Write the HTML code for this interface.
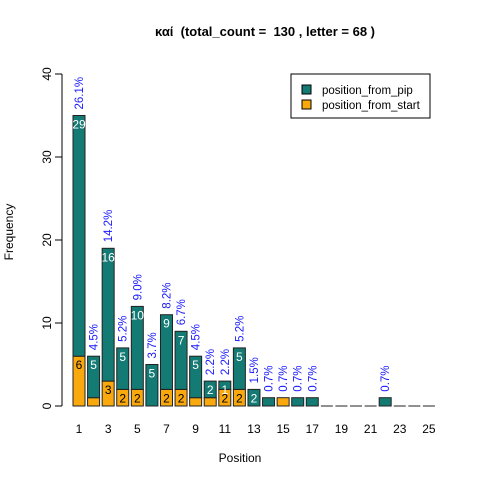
<!DOCTYPE html>
<html><head><meta charset="utf-8"><style>body{margin:0;background:#fff}svg{font-family:"Liberation Sans",Arial,sans-serif}</style></head>
<body>
<svg id="c" width="480" height="480">
<text x="265" y="36" text-anchor="middle" font-size="13" font-weight="bold" style="white-space:pre">καί  (total_count =  130 , letter = 68 )</text>
<text x="240" y="462" text-anchor="middle" font-size="12">Position</text>
<text transform="translate(13,232) rotate(-90)" text-anchor="middle" font-size="12">Frequency</text>
<g>
<rect x="291" y="74" width="139" height="44" fill="#fff" stroke="#000"/>
<rect x="302" y="85" width="9" height="9" fill="#137a74" stroke="#000"/>
<text x="322" y="94" font-size="11.5">position_from_pip</text>
<rect x="302" y="100" width="9" height="9" fill="#f9a90d" stroke="#000"/>
<text x="322" y="109" font-size="11.5">position_from_start</text>
</g>
<g id="plot"></g>
</svg>
<script>
const positions=[1,2,3,4,5,6,7,8,9,10,11,12,13,14,15,16,17,18,19,20,21,22,23,24,25];
const fromStart=[6,1,3,2,2,0,2,2,1,1,2,2,0,0,1,0,0,0,0,0,0,0,0,0,0];
const fromPip=[29,5,16,5,10,5,9,7,5,2,1,5,2,1,0,1,1,0,0,0,0,1,0,0,0];
const yTicks=[0,10,20,30,40];
const pctDenom=134;
const NS="http://www.w3.org/2000/svg";
const g=document.getElementById('plot');
const y=v=>406-v*8.3;
const xc=p=>79+(p-1)*14.58;
function el(t,a){const e=document.createElementNS(NS,t);for(const k in a)e.setAttribute(k,a[k]);g.appendChild(e);return e;}
let ax=el('line',{x1:62,x2:62,y1:y(0),y2:y(40),stroke:'#000'});


yTicks.forEach(t=>{
 const l=el('line',{x1:55,x2:62,y1:y(t),y2:y(t),stroke:'#000'});
 
 
 const tx=el('text',{transform:`translate(51,${y(t)}) rotate(-90)`,'text-anchor':'middle','font-size':12});
 tx.textContent=t;
 
 
});
positions.forEach((p,i)=>{
 const s=fromStart[i],q=fromPip[i],tot=s+q,cx=xc(p),w=12;
 if(tot===0){
  const z=el('line',{x1:cx-w/2,x2:cx+w/2,y1:y(0),y2:y(0),stroke:'#222'});
  
  
 }
 if(s>0){
 const r1=el('rect',{x:cx-w/2,y:y(s),width:w,height:y(0)-y(s),fill:'#f9a90d',stroke:'#222'});
 
 }
 if(q>0){
 const r2=el('rect',{x:cx-w/2,y:y(tot),width:w,height:y(s)-y(tot),fill:'#137a74',stroke:'#222'});
 
 }
 if(p%2==1){const t=el('text',{x:cx,y:433,'text-anchor':'middle','font-size':12});t.textContent=p;
  
  }
 if(s>1){const t=el('text',{x:cx,y:y(s)+13,'text-anchor':'middle','font-size':12,fill:'#000'});t.textContent=s;
  
  }
 if(q>1||(q==1&&s>1)){const t=el('text',{x:cx,y:y(tot)+13,'text-anchor':'middle','font-size':12,fill:'#fff'});t.textContent=q;
  
  }
 if(tot>0){const t=el('text',{transform:`translate(${cx+4},${y(tot)-6}) rotate(-90)`,'font-size':11.5,fill:'#1a1aff'});
  t.textContent=(tot/pctDenom*100).toFixed(1)+'%';
  
  }
});
</script>
</body></html>
